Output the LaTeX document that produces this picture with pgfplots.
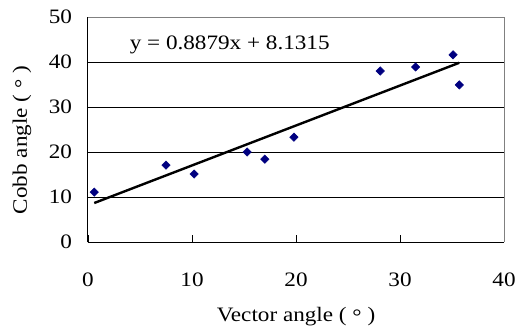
\documentclass[border=0pt]{standalone}
\usepackage{fontspec}
\setmainfont{Liberation Serif}[FakeStretch=1.13]
\usepackage{pgfplots}
\pgfplotsset{compat=1.18}
\definecolor{navyc}{HTML}{000080}
\begin{document}
\fontsize{20.5bp}{24bp}\selectfont
\begin{tikzpicture}[font=\fontsize{20.5bp}{24bp}\selectfont]
\path[use as bounding box] (-88bp,-91bp) rectangle (429bp,242bp);
\begin{axis}[
  at={(0,0)}, anchor=south west,
  scale only axis, width=416bp, height=225bp,
  xmin=0, xmax=40, ymin=0, ymax=50,
  xtick={0,10,20,30,40}, ytick={0,10,20,30,40,50},
  axis x line*=bottom, axis y line*=left,
  axis line style={black, line width=1bp, -},
  tick align=inside, major tick length=7bp,
  tick style={black, line width=0.8bp},
  ymajorgrids, grid style={black, line width=0.8bp},
  /pgf/number format/assume math mode=true,
  xticklabel style={yshift=-24bp},
  yticklabel style={xshift=-9bp},
  xlabel={Vector angle ( \raisebox{-0.1em}{°} )},
  ylabel={Cobb angle ( \raisebox{-0.1em}{°} )},
  xlabel style={at={(axis description cs:0.5,-0.333)}, anchor=center},
  ylabel style={at={(axis description cs:-0.159,0.453)}, anchor=center},
  clip=false,
]
\addplot[only marks, mark=square*, mark size=3bp,
  mark options={rotate=45, fill=navyc, draw=navyc}] coordinates {
  (0.6,11.1) (7.5,17.1) (10.2,15.1) (15.3,20.0) (17.0,18.4)
  (19.8,23.3) (28.1,38.0) (31.5,38.9) (35.1,41.6) (35.7,34.9)
};
\addplot[black, line width=2.4bp] coordinates {(0.6,8.664) (35.7,39.829)};
\draw[gray, line width=1bp] (rel axis cs:0,1) -- (rel axis cs:1,1) -- (rel axis cs:1,0);
\node[anchor=west, inner sep=0pt] at (axis cs:4.0,43.8) {y = 0.8879x + 8.1315};
\end{axis}
\end{tikzpicture}
\end{document}
